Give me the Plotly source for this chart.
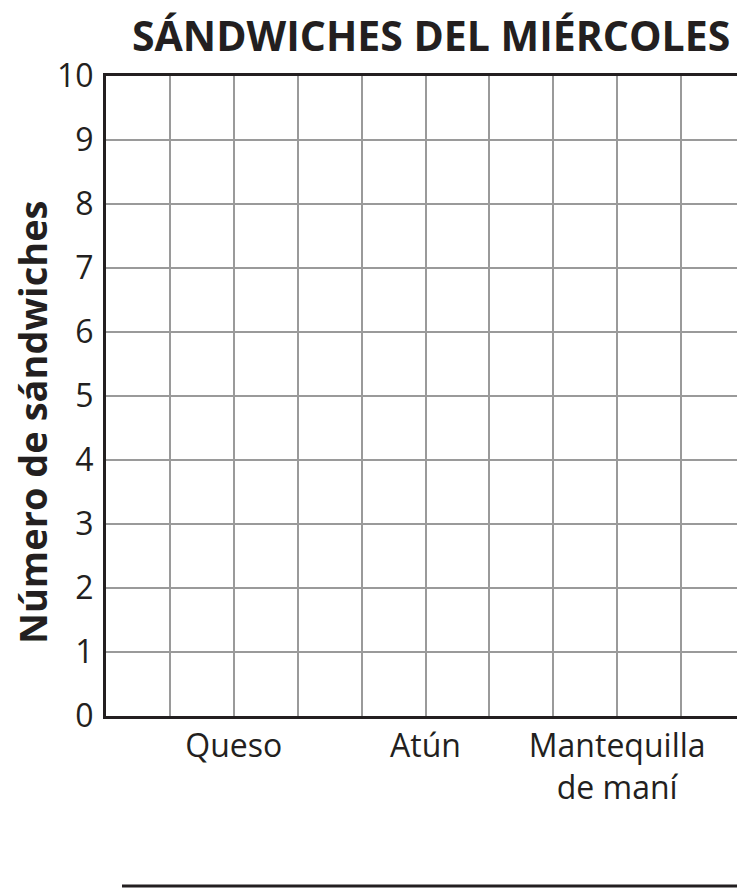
import plotly.graph_objects as go

title = "SÁNDWICHES DEL MIÉRCOLES"
y_title = "Número de sándwiches"
categories = ["Queso", "Atún", "Mantequilla<br>de maní"]
category_pos = [2, 5, 8]
counts = [None, None, None]  # blank graph: no bars drawn yet
y_ticks = list(range(0, 11))

INK = "#231f20"
GRID = "#9a9a9a"

# page body has an 8px margin; figure is sized to fit the 745x891 window
W, H = 737, 883
L, T, B = 98, 68, 175
PW, PH = W - L, H - T - B

fig = go.Figure()
fig.add_trace(go.Bar(x=category_pos, y=counts, marker_color="#888", showlegend=False, hoverinfo="skip"))

fig.update_layout(
    width=W, height=H,
    margin=dict(l=L, r=0, t=T, b=B, pad=0),
    paper_bgcolor="white", plot_bgcolor="white",
    font=dict(family="Open Sans", color=INK),
    showlegend=False,
)

fig.update_xaxes(
    range=[0, 10], tickvals=category_pos, ticktext=categories,
    tickfont=dict(size=32, family="Open Sans", color=INK),
    showline=True, linecolor=INK, linewidth=3, mirror=True,
    showgrid=True, gridcolor=GRID, gridwidth=1.5,
    minor=dict(dtick=1, tick0=0, showgrid=True, gridcolor=GRID, gridwidth=1.5),
    ticks="", zeroline=False, fixedrange=True,
)
fig.update_yaxes(
    range=[0, 10], tickvals=y_ticks, ticktext=[str(v) for v in y_ticks],
    tickfont=dict(size=32, family="Open Sans", color=INK),
    showline=True, linecolor=INK, linewidth=3, mirror=False,
    showgrid=True, gridcolor=GRID, gridwidth=1.5,
    ticks="", ticklabelstandoff=3, zeroline=False, fixedrange=True,
)

# chart title
fig.add_annotation(
    text=f"<b>{title}</b>", xref="paper", yref="paper",
    x=(423 - L) / PW, y=(T + PH - 27) / PH, xanchor="center", yanchor="middle",
    showarrow=False, font=dict(size=41, family="Open Sans", color=INK),
)

# y-axis title
fig.add_annotation(
    text=f"<b>{y_title}</b>", textangle=-90, xref="paper", yref="paper",
    x=(24 - L) / PW, y=(T + PH - 414) / PH, xanchor="center", yanchor="middle",
    showarrow=False, borderpad=0, font=dict(size=38, family="Open Sans", color=INK),
)

# answer line below the graph
line_y = (T + PH - 878) / PH
fig.add_shape(type="line", xref="paper", yref="paper",
              x0=(114 - L) / PW, x1=(730 - L) / PW,
              y0=line_y, y1=line_y,
              line=dict(color=INK, width=3))

fig.write_html("out.html")
